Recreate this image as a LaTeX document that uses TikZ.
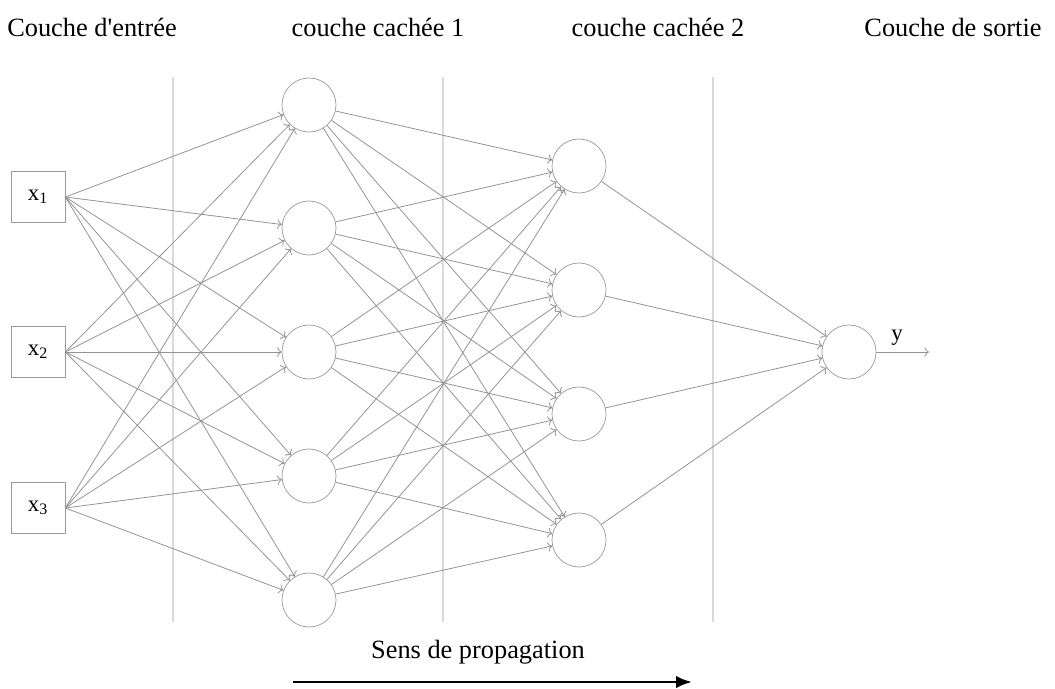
\documentclass[tikz,border=0pt]{standalone}
\usepackage{fontspec}
\setmainfont{Liberation Serif}
\usetikzlibrary{calc,arrows.meta}

\begin{document}
\begin{tikzpicture}[x=0.02cm,y=-0.02cm,
  neuron/.style={draw=gray!80,circle,minimum size=54*0.02cm,inner sep=0pt},
  entree/.style={draw=gray!80,rectangle,minimum width=54*0.02cm,minimum height=51*0.02cm,font=\fontsize{13}{15}\selectfont},
  lien/.style={draw=gray!85,line width=0.45pt,->},
  titre/.style={font=\fontsize{15}{18}\selectfont}]
  \useasboundingbox (0,0) rectangle (1055,689);
  % separateurs
  \draw [gray!30,line width=1pt] (173,77) to (173,622);
  \draw [gray!30,line width=1pt] (443,77) to (443,622);
  \draw [gray!30,line width=1pt] (713,77) to (713,622);
  % titres
  \node (t1) at (92,27) [titre] {Couche d\textquotesingle entrée};
  \node (t2) at (378,27) [titre] {couche cachée 1};
  \node (t3) at (658,27) [titre] {couche cachée 2};
  \node (t4) at (953,27) [titre] {Couche de sortie};
  % entrees
  \node (x1) at (38,197) [entree] {x\textsubscript{1}};
  \node (x2) at (38,352) [entree] {x\textsubscript{2}};
  \node (x3) at (38,508) [entree] {x\textsubscript{3}};
  % couche cachee 1
  \node (a1) at (309,105) [neuron] {};
  \node (a2) at (309,228) [neuron] {};
  \node (a3) at (309,352) [neuron] {};
  \node (a4) at (309,476) [neuron] {};
  \node (a5) at (309,600) [neuron] {};
  % couche cachee 2
  \node (b1) at (579,166) [neuron] {};
  \node (b2) at (579,290) [neuron] {};
  \node (b3) at (579,414) [neuron] {};
  \node (b4) at (579,540) [neuron] {};
  % sortie
  \node (s) at (849,352) [neuron] {};
  \coordinate (fin) at (929,352);
  \foreach \i in {1,2,3}
    \foreach \j in {1,...,5}
      \draw [lien] (x\i.east) to (a\j);
  \foreach \i in {1,...,5}
    \foreach \j in {1,...,4}
      \draw [lien] (a\i) to (b\j);
  \foreach \j in {1,...,4}
    \draw [lien] (b\j) to (s);
  \draw [lien] (s) to (fin);
  \node (y) at (897,338) [font=\fontsize{13}{15}\selectfont] {y};
  % sens de propagation
  \node (sens) at (478,652) [titre] {Sens de propagation};
  \coordinate (d) at (293,682);
  \coordinate (f) at (692,682);
  \draw [line width=1.5pt,-{Latex[length=9pt,width=7pt]}] (d) to (f);
\end{tikzpicture}
\end{document}
